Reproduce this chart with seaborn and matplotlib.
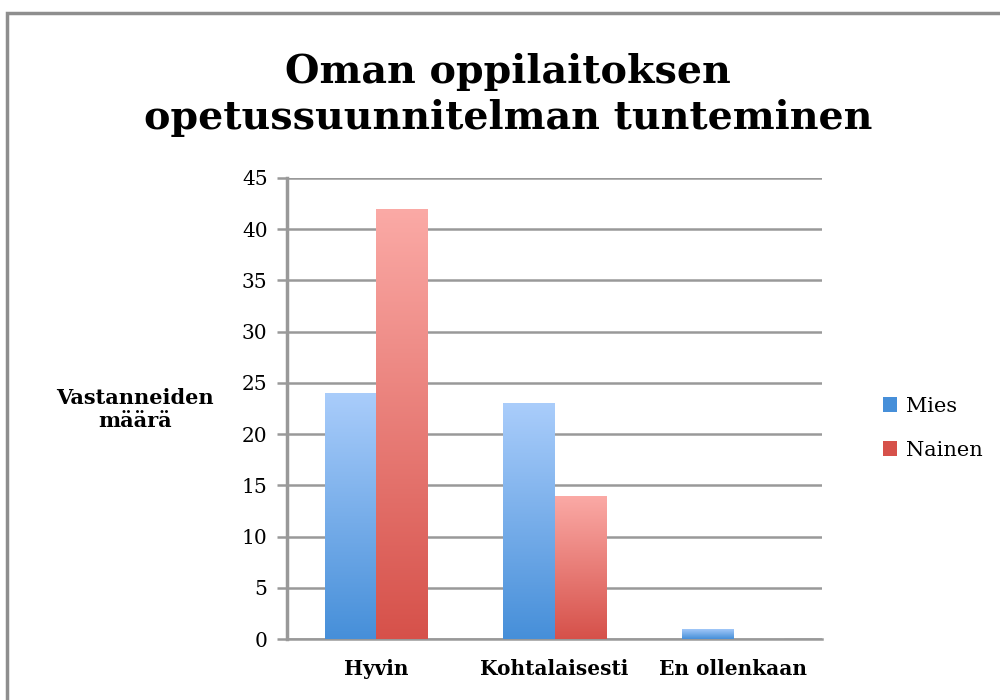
import matplotlib
matplotlib.use("Agg")
import matplotlib.pyplot as plt
import matplotlib.patches as mpatches
from matplotlib.colors import LinearSegmentedColormap
import numpy as np
import pandas as pd
import seaborn as sns

# data
categories = ["Hyvin", "Kohtalaisesti", "En ollenkaan"]
mies = [24, 23, 1]
nainen = [42, 14, 0]
series = ["Mies", "Nainen"]
yticks = list(range(0, 46, 5))

df = pd.DataFrame({
    "Vastaus": categories * 2,
    "Sukupuoli": ["Mies"] * 3 + ["Nainen"] * 3,
    "Määrä": mies + nainen,
})

# gradient colours (top, bottom)
grad = {
    "Mies": ("#aacdfb", "#468fd9"),
    "Nainen": ("#fbaaa6", "#d6514a"),
}

sns.set_theme(style="white")
plt.rcParams["font.family"] = ["DejaVu Serif"]
plt.rcParams["text.color"] = "black"

fig = plt.figure(figsize=(10, 7), dpi=100)
ax = fig.add_axes([0.287, 0.087, 0.535, 0.659])

sns.barplot(data=df, x="Vastaus", y="Määrä", hue="Sukupuoli", order=categories,
            hue_order=series, width=0.575, palette=[grad[s][1] for s in series],
            saturation=1, ax=ax, legend=False)

ax.set_ylim(0, 45)
ax.set_xlim(-0.5, 2.5)
ax.set_yticks(yticks)
ax.set_xlabel("")
ax.set_ylabel("")

# paint gradients into the bars
grey = "#999999"
for container, s in zip(ax.containers, series):
    cmap = LinearSegmentedColormap.from_list(s, [grad[s][1], grad[s][0]])
    for bar in container:
        h = bar.get_height()
        if h <= 0:
            continue
        x0 = bar.get_x()
        w = bar.get_width()
        img = np.linspace(0, 1, 256).reshape(-1, 1)
        im = ax.imshow(img, cmap=cmap, origin="lower", aspect="auto",
                       extent=(x0, x0 + w, 0, h), zorder=3)
        im.set_clip_path(bar)
        bar.set_facecolor("none")
        bar.set_edgecolor("none")
ax.set_xlim(-0.5, 2.5)
ax.set_ylim(0, 45)

ax.yaxis.grid(True, color=grey, linewidth=1.8)
ax.set_axisbelow(True)
for side in ["top", "right"]:
    ax.spines[side].set_visible(False)
ax.spines["left"].set_color(grey)
ax.spines["left"].set_linewidth(2.5)
ax.spines["bottom"].set_color(grey)
ax.spines["bottom"].set_linewidth(1.8)
ax.tick_params(axis="y", left=True, length=7, width=1.8, color=grey,
               labelsize=14.5, pad=7, labelcolor="black")
ax.tick_params(axis="x", bottom=False, labelsize=14.5, pad=8, labelcolor="black")
for lab in ax.get_xticklabels():
    lab.set_fontweight("bold")

fig.text(0.508, 0.864, "Oman oppilaitoksen\nopetussuunnitelman tunteminen",
         ha="center", va="center", fontsize=28.5, fontweight="bold",
         linespacing=1.25, color="black")

fig.text(0.135, 0.415, "Vastanneiden\nmäärä", ha="center", va="center",
         fontsize=15, fontweight="bold", linespacing=1.2, color="black")

handles = [mpatches.Patch(facecolor=grad[s][1], edgecolor="none") for s in series]
fig.legend(handles, series, loc="center left", bbox_to_anchor=(0.864, 0.388),
           frameon=False, fontsize=15, handlelength=0.7, handleheight=0.7,
           handletextpad=0.4, labelspacing=1.2, labelcolor="black")

# outer frame
fig.add_artist(mpatches.Rectangle((0.007, -0.1), 1.1, 1.0814,
                                  transform=fig.transFigure, fill=False,
                                  edgecolor="#8e8e8e", linewidth=2.5))

fig.savefig("out.png", dpi=100)
